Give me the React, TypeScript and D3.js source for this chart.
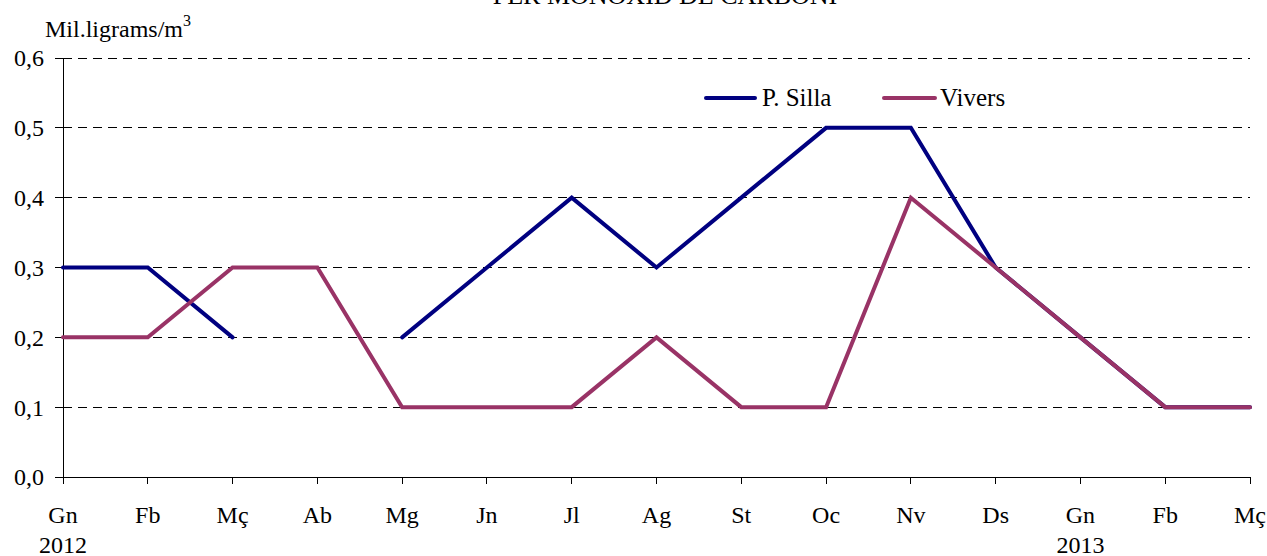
import React from "react";
import * as d3 from "d3";

const categories = ["Gn", "Fb", "Mç", "Ab", "Mg", "Jn", "Jl", "Ag", "St", "Oc", "Nv", "Ds", "Gn", "Fb", "Mç"];
const years: (string | null)[] = ["2012", null, null, null, null, null, null, null, null, null, null, null, "2013", null, null];
const pSilla: (number | null)[] = [0.3, 0.3, 0.2, null, 0.2, 0.3, 0.4, 0.3, 0.4, 0.5, 0.5, 0.3, 0.2, 0.1, 0.1];
const vivers: (number | null)[] = [0.2, 0.2, 0.3, 0.3, 0.1, 0.1, 0.1, 0.2, 0.1, 0.1, 0.4, 0.3, 0.2, 0.1, 0.1];
const yTicks = [0, 0.1, 0.2, 0.3, 0.4, 0.5, 0.6];

const series = [
  { name: "P. Silla", values: pSilla, color: "#000080" },
  { name: "Vivers", values: vivers, color: "#993366" },
];

const W = 1267;
const H = 556;
const FONT = '"Liberation Serif", "Times New Roman", serif';
const ts: React.CSSProperties = { fontFamily: FONT };

export default function App() {
  const x = d3.scalePoint<number>().domain(d3.range(categories.length)).range([63, 1250]);
  const y = d3.scaleLinear().domain([0, 0.6]).range([477, 58]);
  const fmt = (v: number) => v.toFixed(1).replace(".", ",");
  const line = d3
    .line<number | null>()
    .defined((d) => d !== null)
    .x((_, i) => x(i) as number)
    .y((d) => y(d as number));

  const legendItems = [
    { x1: 706, x2: 755, tx: 762 },
    { x1: 884, x2: 935, tx: 940 },
  ];

  return (
    <svg
      width={W}
      height={H}
      style={{ position: "absolute", left: 0, top: 0, background: "#fff", fontFamily: FONT }}
    >
      <text x={665} y={4} textAnchor="middle" fontSize={26} fill="#000" style={ts}>
        PER MONOXID DE CARBONI
      </text>
      <text x={45} y={37} fontSize={24} fill="#000" style={ts}>
        Mil.ligrams/m<tspan dy={-11} fontSize={16}>3</tspan>
      </text>

      {yTicks.map((t) => (
        <g key={t}>
          {t > 0 && (
            <line
              x1={63}
              x2={1250}
              y1={y(t)}
              y2={y(t)}
              stroke="#000"
              strokeWidth={1}
              strokeDasharray="9,6"
              shapeRendering="crispEdges"
            />
          )}
          <line x1={55} x2={63} y1={y(t)} y2={y(t)} stroke="#000" shapeRendering="crispEdges" />
          <text x={44} y={y(t)} dy="0.35em" textAnchor="end" fontSize={24} fill="#000" style={ts}>
            {fmt(t)}
          </text>
        </g>
      ))}

      <line x1={63} x2={63} y1={58} y2={477} stroke="#000" shapeRendering="crispEdges" />
      <line x1={63} x2={1250} y1={477} y2={477} stroke="#000" shapeRendering="crispEdges" />

      {categories.map((c, i) => (
        <g key={i}>
          <line x1={x(i)} x2={x(i)} y1={477} y2={484} stroke="#000" shapeRendering="crispEdges" />
          <text x={x(i)} y={523} textAnchor="middle" fontSize={24} fill="#000" style={ts}>
            {c}
          </text>
          {years[i] && (
            <text x={x(i)} y={553} textAnchor="middle" fontSize={24} fill="#000" style={ts}>
              {years[i]}
            </text>
          )}
        </g>
      ))}

      {series.map((s) => (
        <path
          key={s.name}
          d={line(s.values) || ""}
          fill="none"
          stroke={s.color}
          strokeWidth={4}
          strokeLinejoin="miter"
          strokeLinecap="round"
        />
      ))}

      {series.map((s, i) => (
        <g key={s.name}>
          <line
            x1={legendItems[i].x1}
            x2={legendItems[i].x2}
            y1={98}
            y2={98}
            stroke={s.color}
            strokeWidth={4}
            strokeLinecap="round"
          />
          <text x={legendItems[i].tx} y={106} fontSize={25} fill="#000" style={ts}>
            {s.name}
          </text>
        </g>
      ))}
    </svg>
  );
}
